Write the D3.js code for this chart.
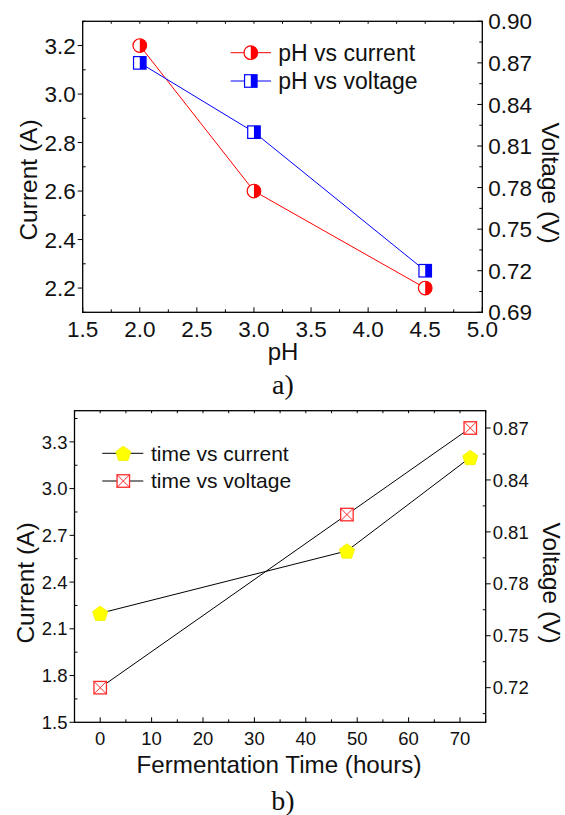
<!DOCTYPE html>
<html><head><meta charset="utf-8">
<script src="https://cdn.jsdelivr.net/npm/d3@7"></script>
<style>body{margin:0;background:#fff}svg{display:block}text{font-family:"Liberation Sans",Arial,sans-serif;fill:#111}</style>
</head><body>
<svg id="c" width="565" height="815"></svg>
<script>
// ---- data: chart a ----
const phValues = [2.0, 3.0, 4.5];
const phCurrent = [3.2, 2.6, 2.2];
const phVoltage = [0.87, 0.82, 0.72];
const phTicks = [1.5, 2.0, 2.5, 3.0, 3.5, 4.0, 4.5, 5.0];
const aCurrentTicks = [2.2, 2.4, 2.6, 2.8, 3.0, 3.2];
const aVoltageTicks = [0.69, 0.72, 0.75, 0.78, 0.81, 0.84, 0.87, 0.90];
// ---- data: chart b ----
const timeValues = [0, 48, 72];
const timeCurrent = [2.2, 2.6, 3.2];
const timeVoltage = [0.72, 0.82, 0.87];
const timeTicks = [0, 10, 20, 30, 40, 50, 60, 70];
const bCurrentTicks = [1.5, 1.8, 2.1, 2.4, 2.7, 3.0, 3.3];
const bVoltageTicks = [0.72, 0.75, 0.78, 0.81, 0.84, 0.87];

const svg = d3.select("#c");
const range = (a, b, s) => d3.range(Math.round((b - a) / s) + 1).map(i => +(a + i * s).toFixed(4));
const inDom = sc => v => v >= Math.min(...sc.domain()) - 1e-9 && v <= Math.max(...sc.domain()) + 1e-9;

function frame(g, x, y, yr, o) {
  const [x0, x1] = x.range(), [y1, y0] = y.range();
  const tick = (a, b, c, d) => g.append("line").attr("x1", a).attr("y1", b).attr("x2", c).attr("y2", d).attr("stroke", "#000").attr("stroke-width", 1);
  o.xMinor.filter(inDom(x)).forEach(v => { tick(x(v), y1, x(v), y1 - 3); tick(x(v), y0, x(v), y0 + 2.5); });
  o.xTicks.forEach(v => { tick(x(v), y1, x(v), y1 - 5); tick(x(v), y0, x(v), y0 + 2.5); });
  o.yMinor.filter(inDom(y)).forEach(v => tick(x0, y(v), x0 + 3, y(v)));
  o.yTicks.forEach(v => tick(x0, y(v), x0 - 5, y(v)));
  o.yrMinor.filter(inDom(yr)).forEach(v => tick(x1, yr(v), x1 - 3, yr(v)));
  o.yrTicks.forEach(v => tick(x1, yr(v), x1 + o.rightDir * 5, yr(v)));
  g.append("rect").attr("x", x0).attr("y", y0).attr("width", x1 - x0).attr("height", y1 - y0)
    .attr("fill", "none").attr("stroke", "#000").attr("stroke-width", 1.3);
  g.selectAll(null).data(o.xTicks).enter().append("text").attr("x", d => x(d)).attr("y", y1 + o.xLabDy)
    .attr("text-anchor", "middle").attr("font-size", o.fs).text(d => o.xFmt(d));
  g.selectAll(null).data(o.yTicks).enter().append("text").attr("x", x0 - 7).attr("y", d => y(d))
    .attr("dy", "0.36em").attr("text-anchor", "end").attr("font-size", o.fs).text(d => d3.format(".1f")(d));
  g.selectAll(null).data(o.yrTicks).enter().append("text").attr("x", x1 + o.rLabDx).attr("y", d => yr(d))
    .attr("dy", "0.36em").attr("text-anchor", "start").attr("font-size", o.fs).text(d => d3.format(".2f")(d));
}

function halfCircle(g, cx, cy, color) {
  g.append("circle").attr("cx", cx).attr("cy", cy).attr("r", 6.8).attr("fill", "#fff").attr("stroke", color).attr("stroke-width", 1.2);
  g.append("path").attr("transform", `translate(${cx},${cy})`)
    .attr("d", d3.arc()({innerRadius: 0, outerRadius: 6.8, startAngle: 0, endAngle: Math.PI})).attr("fill", color);
}
function halfSquare(g, cx, cy, color) {
  const s = 12.5;
  g.append("rect").attr("x", cx - s / 2).attr("y", cy - s / 2).attr("width", s).attr("height", s).attr("fill", "#fff").attr("stroke", color).attr("stroke-width", 1.2);
  g.append("rect").attr("x", cx).attr("y", cy - s / 2).attr("width", s / 2).attr("height", s).attr("fill", color);
}
function pentagon(g, cx, cy) {
  const r = 8;
  const pts = d3.range(5).map(i => { const a = -Math.PI / 2 + i * 2 * Math.PI / 5; return [cx + r * Math.cos(a), cy + r * Math.sin(a) + 0.8]; });
  g.append("polygon").attr("points", pts.map(p => p.join(",")).join(" ")).attr("fill", "#ffff00").attr("stroke", "#f2f200").attr("stroke-width", 0.8);
}
function xSquare(g, cx, cy) {
  const s = 12.5, h = s / 2, c = "#ff2a2a";
  g.append("rect").attr("x", cx - h).attr("y", cy - h).attr("width", s).attr("height", s).attr("fill", "#fff").attr("stroke", c).attr("stroke-width", 1.3);
  g.append("path").attr("d", `M${cx - h},${cy - h}L${cx + h},${cy + h}M${cx + h},${cy - h}L${cx - h},${cy + h}`).attr("stroke", c).attr("stroke-width", 1);
}
const serif = '"Liberation Serif","Times New Roman",serif';

// ================= Chart a =================
{
  const g = svg.append("g");
  const x = d3.scaleLinear().domain([1.5, 5.0]).range([82.7, 482.3]);
  const y = d3.scaleLinear().domain([2.1, 3.3]).range([312.3, 21.3]);
  const yr = d3.scaleLinear().domain([0.69, 0.90]).range([312.3, 21.3]);
  frame(g, x, y, yr, {
    xTicks: phTicks, xMinor: range(1.75, 4.75, 0.5), yTicks: aCurrentTicks, yMinor: range(2.1, 3.3, 0.2),
    yrTicks: aVoltageTicks, yrMinor: range(0.705, 0.885, 0.03), rightDir: -1, fs: 22.5, xLabDy: 25, rLabDx: 6,
    xFmt: d3.format(".1f")
  });
  const cur = phValues.map((v, i) => [x(v), y(phCurrent[i])]);
  const vol = phValues.map((v, i) => [x(v), yr(phVoltage[i])]);
  g.append("path").attr("d", d3.line()(cur)).attr("fill", "none").attr("stroke", "#ff0000").attr("stroke-width", 1);
  g.append("path").attr("d", d3.line()(vol)).attr("fill", "none").attr("stroke", "#0000ff").attr("stroke-width", 1);
  cur.forEach(p => halfCircle(g, p[0], p[1], "#ff0000"));
  vol.forEach(p => halfSquare(g, p[0], p[1], "#0000ff"));
  const leg = [["pH vs current", "#ff0000", halfCircle, 52.7], ["pH vs voltage", "#0000ff", halfSquare, 81]];
  leg.forEach(([t, c, f, ly]) => {
    g.append("line").attr("x1", 230.7).attr("x2", 271).attr("y1", ly).attr("y2", ly).attr("stroke", c).attr("stroke-width", 1);
    f(g, 250.8, ly, c);
    g.append("text").attr("x", 278.3).attr("y", ly + 7.8).attr("font-size", 23).text(t);
  });
  g.append("text").attr("transform", "translate(37,180) rotate(-90)").attr("text-anchor", "middle").attr("font-size", 24.5).text("Current (A)");
  g.append("text").attr("transform", "translate(542,183) rotate(90)").attr("text-anchor", "middle").attr("font-size", 24.5).text("Voltage (V)");
  g.append("text").attr("x", 283).attr("y", 360).attr("text-anchor", "middle").attr("font-size", 24).text("pH");
  g.append("text").attr("x", 283).attr("y", 394).attr("text-anchor", "middle").attr("font-size", 28)
    .style("font-family", serif).text("a)");
}

// ================= Chart b =================
{
  const g = svg.append("g");
  const x = d3.scaleLinear().domain([-5, 75]).range([74.5, 485.7]);
  const y = d3.scaleLinear().domain([1.5, 3.5]).range([722.3, 410.7]);
  const yr = d3.scaleLinear().domain([0.70, 0.88]).range([722.3, 410.7]);
  frame(g, x, y, yr, {
    xTicks: timeTicks, xMinor: range(-5, 75, 10), yTicks: bCurrentTicks, yMinor: range(1.65, 3.45, 0.3),
    yrTicks: bVoltageTicks, yrMinor: range(0.705, 0.885, 0.03), rightDir: 1, fs: 18.5, xLabDy: 23, rLabDx: 7,
    xFmt: d3.format("d")
  });
  const cur = timeValues.map((v, i) => [x(v), y(timeCurrent[i])]);
  const vol = timeValues.map((v, i) => [x(v), yr(timeVoltage[i])]);
  g.append("path").attr("d", d3.line()(cur)).attr("fill", "none").attr("stroke", "#000").attr("stroke-width", 1);
  g.append("path").attr("d", d3.line()(vol)).attr("fill", "none").attr("stroke", "#000").attr("stroke-width", 1);
  cur.forEach(p => pentagon(g, p[0], p[1]));
  vol.forEach(p => xSquare(g, p[0], p[1]));
  const leg = [["time vs current", pentagon, 453.3], ["time vs voltage", xSquare, 481]];
  leg.forEach(([t, f, ly]) => {
    g.append("line").attr("x1", 102.3).attr("x2", 143.3).attr("y1", ly).attr("y2", ly).attr("stroke", "#000").attr("stroke-width", 1);
    f(g, 123.3, ly);
    g.append("text").attr("x", 151).attr("y", ly + 7.2).attr("font-size", 21).text(t);
  });
  g.append("text").attr("transform", "translate(34,583) rotate(-90)").attr("text-anchor", "middle").attr("font-size", 24.5).text("Current (A)");
  g.append("text").attr("transform", "translate(543,583) rotate(90)").attr("text-anchor", "middle").attr("font-size", 24.5).text("Voltage (V)");
  g.append("text").attr("x", 279).attr("y", 773).attr("text-anchor", "middle").attr("font-size", 24.2).text("Fermentation Time (hours)");
  g.append("text").attr("x", 283).attr("y", 810).attr("text-anchor", "middle").attr("font-size", 28)
    .style("font-family", serif).text("b)");
}
</script>
</body></html>
